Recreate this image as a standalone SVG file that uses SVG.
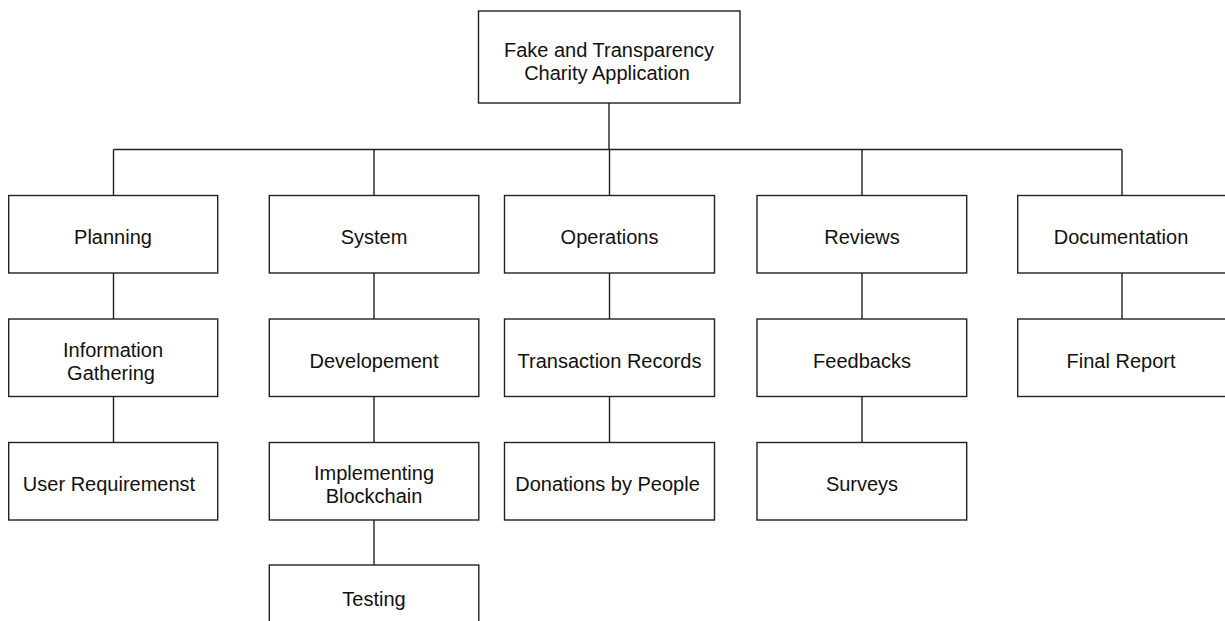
<svg xmlns="http://www.w3.org/2000/svg" width="1225" height="621" viewBox="0 0 1225 621">
<style>
.box{fill:#ffffff;stroke:#222222;stroke-width:1.4}
.con{fill:none;stroke:#222222;stroke-width:1.4}
text{font-family:"Liberation Sans",Arial,sans-serif;font-size:20px;fill:#111111;text-anchor:middle}
</style>
<rect width="1225" height="621" fill="#ffffff"/>
<g id="connectors">
<path class="con" d="M609,103 V149.5 M113.5,149.5 H1122 M113.5,149.5 V195.5 M374,149.5 V195.5 M609.5,149.5 V195.5 M862,149.5 V195.5 M1122,149.5 V195.5"/>
<path class="con" d="M113.5,273 V319 M113.5,396.5 V442.5"/>
<path class="con" d="M374,273 V319 M374,396.5 V442.5 M374,519.5 V565"/>
<path class="con" d="M609.5,273 V319 M609.5,396.5 V442.5"/>
<path class="con" d="M862,273 V319 M862,396.5 V442.5"/>
<path class="con" d="M1122,273 V319"/>
</g>
<g id="root"><rect class="box" x="478.5" y="11" width="261.5" height="92"/><text x="609" y="57">Fake and Transparency</text><text x="607" y="79.5">Charity Application</text></g>
<g id="planning"><rect class="box" x="8.7" y="195.5" width="209" height="77.5"/><text x="113" y="244">Planning</text></g>
<g id="system"><rect class="box" x="269.3" y="195.5" width="209.5" height="77.5"/><text x="374" y="244">System</text></g>
<g id="operations"><rect class="box" x="504.5" y="195.5" width="210" height="77.5"/><text x="609.5" y="244">Operations</text></g>
<g id="reviews"><rect class="box" x="757" y="195.5" width="209.7" height="77.5"/><text x="862" y="244">Reviews</text></g>
<g id="documentation"><rect class="box" x="1017.7" y="195.5" width="210" height="77.5"/><text x="1121" y="244">Documentation</text></g>
<g id="info-gathering"><rect class="box" x="8.7" y="319" width="209" height="77.5"/><text x="113" y="357">Information</text><text x="111" y="379.5">Gathering</text></g>
<g id="developement"><rect class="box" x="269.3" y="319" width="209.5" height="77.5"/><text x="374" y="367.5">Developement</text></g>
<g id="transaction-records"><rect class="box" x="504.5" y="319" width="210" height="77.5"/><text x="609.5" y="367.5">Transaction Records</text></g>
<g id="feedbacks"><rect class="box" x="757" y="319" width="209.7" height="77.5"/><text x="862" y="367.5">Feedbacks</text></g>
<g id="final-report"><rect class="box" x="1017.7" y="319" width="210" height="77.5"/><text x="1121" y="367.5">Final Report</text></g>
<g id="user-requirements"><rect class="box" x="8.7" y="442.5" width="209" height="77.5"/><text x="109" y="491">User Requiremenst</text></g>
<g id="implementing-blockchain"><rect class="box" x="269.3" y="442.5" width="209.5" height="77.5"/><text x="374" y="480">Implementing</text><text x="374" y="502.5">Blockchain</text></g>
<g id="donations"><rect class="box" x="504.5" y="442.5" width="210" height="77.5"/><text x="607.5" y="491">Donations by People</text></g>
<g id="surveys"><rect class="box" x="757" y="442.5" width="209.7" height="77.5"/><text x="862" y="491">Surveys</text></g>
<g id="testing"><rect class="box" x="269.3" y="565" width="209.5" height="77.5"/><text x="374" y="606">Testing</text></g>
</svg>
